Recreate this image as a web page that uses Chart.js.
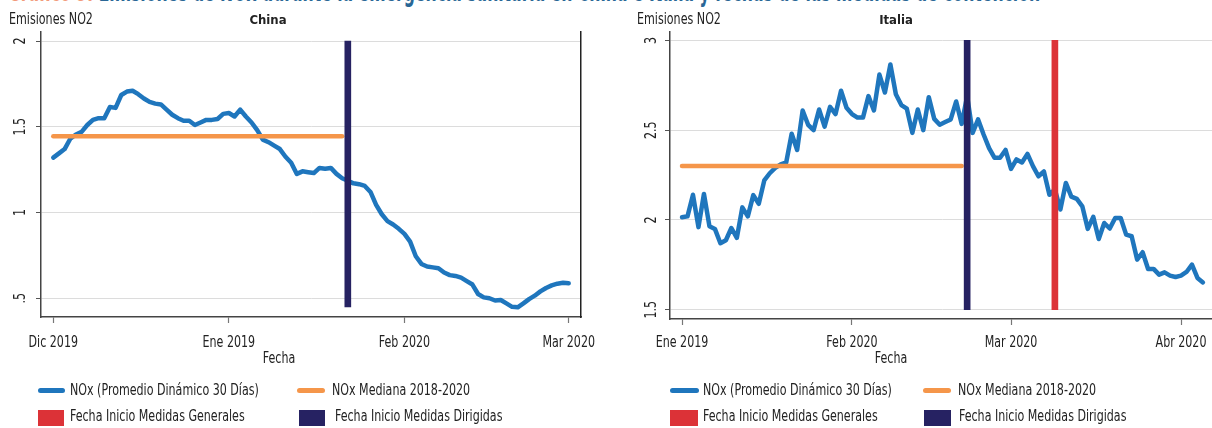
<!DOCTYPE html>
<html>
<head>
<meta charset="utf-8">
<script src="https://cdn.jsdelivr.net/npm/chart.js@4.4.0/dist/chart.umd.min.js"></script>
<style>
  html, body { margin: 0; padding: 0; background: #fff; }
  body { width: 1212px; height: 428px; overflow: hidden; position: relative;
         font-family: "Liberation Sans Narrow", "DejaVu Sans Condensed", "Liberation Sans", sans-serif;
         color: #222; font-size: 16px; }
  .abs { position: absolute; white-space: nowrap; line-height: 18px; transform-origin: 0 0; transform: scaleX(0.77); }
  .mid { transform: translateX(-50%) scaleX(0.77); transform-origin: 50% 0; }
  .small { font-size: 15px; }
  .bold { font-weight: bold; font-size: 13px; transform: translateX(-50%); }
  canvas { position: absolute; top: 0; }
  .swl { position: absolute; height: 5px; border-radius: 3px; }
  .swb { position: absolute; height: 16px; }
  #head { position: absolute; left: 8px; top: -24px; font-size: 30px; font-weight: bold; line-height: 30px;
          white-space: nowrap; color: #2a6796; transform-origin: 0 0; }
  #head span { color: #f29a7a; }
</style>
</head>
<body>
<div id="head"><span>Gráfico 5:</span> Emisiones de NOx durante la emergencia sanitaria en China e Italia y fechas de las medidas de contención</div>

<canvas id="china" width="606" height="428" style="left:0"></canvas>
<canvas id="italia" width="620" height="428" style="left:606px"></canvas>

<!-- China labels -->
<div class="abs small" style="left:9px;top:10px">Emisiones NO2</div>
<div class="abs bold" style="left:268px;top:11px">China</div>
<div class="abs mid" style="left:279px;top:349px">Fecha</div>

<div class="swl" style="left:38px;width:27px;top:388px;background:#1f76bd"></div>
<div class="abs" style="left:70px;top:381px">NOx (Promedio Dinámico 30 Días)</div>
<div class="swl" style="left:297px;width:28px;top:388px;background:#f5964a"></div>
<div class="abs" style="left:332px;top:381px">NOx Mediana 2018-2020</div>
<div class="swb" style="left:38px;width:26px;top:410px;background:#dc3237"></div>
<div class="abs" style="left:70px;top:407px">Fecha Inicio Medidas Generales</div>
<div class="swb" style="left:299px;width:26px;top:410px;background:#262262"></div>
<div class="abs" style="left:335px;top:407px">Fecha Inicio Medidas Dirigidas</div>

<!-- Italia labels -->
<div class="abs small" style="left:637px;top:10px">Emisiones NO2</div>
<div class="abs bold" style="left:896px;top:11px">Italia</div>
<div class="abs mid" style="left:891px;top:349px">Fecha</div>

<div class="swl" style="left:670px;width:29px;top:388px;background:#1f76bd"></div>
<div class="abs" style="left:703px;top:381px">NOx (Promedio Dinámico 30 Días)</div>
<div class="swl" style="left:923px;width:28px;top:388px;background:#f5964a"></div>
<div class="abs" style="left:958px;top:381px">NOx Mediana 2018-2020</div>
<div class="swb" style="left:670px;width:28px;top:410px;background:#dc3237"></div>
<div class="abs" style="left:703px;top:407px">Fecha Inicio Medidas Generales</div>
<div class="swb" style="left:924px;width:27px;top:410px;background:#262262"></div>
<div class="abs" style="left:959px;top:407px">Fecha Inicio Medidas Dirigidas</div>

<script>
// China: daily values from 1 Dec 2019 (day 0) to 1 Mar 2020 (day 91)
const chinaNOx = [
  1.32, 1.345, 1.37, 1.43, 1.455, 1.47, 1.51, 1.54, 1.55, 1.55,
  1.615, 1.61, 1.685, 1.705, 1.71, 1.69, 1.665, 1.645, 1.635, 1.63,
  1.60, 1.57, 1.55, 1.535, 1.535, 1.51, 1.525, 1.54, 1.54, 1.545,
  1.575, 1.58, 1.56, 1.60, 1.56, 1.525, 1.48, 1.425, 1.41, 1.39,
  1.37, 1.325, 1.29, 1.225, 1.24, 1.235, 1.23, 1.26, 1.255, 1.26,
  1.225, 1.20, 1.185, 1.17, 1.165, 1.155, 1.12, 1.045, 0.99, 0.95,
  0.93, 0.905, 0.875, 0.83, 0.745, 0.70, 0.685, 0.68, 0.675, 0.65,
  0.635, 0.63, 0.62, 0.60, 0.58, 0.525, 0.505, 0.50, 0.487, 0.49,
  0.47, 0.45, 0.447, 0.47, 0.495, 0.515, 0.54, 0.56, 0.575, 0.585,
  0.59, 0.587
];
const chinaMedian = 1.444;
const chinaMedianDays = [0, 51];
const chinaDirigidas = 52;          // 22 ene
const chinaBarRange = [0.45, 2];
const chinaTickDays = [0, 31, 62, 91];
const chinaTickLabels = ['Dic 2019', 'Ene 2019', 'Feb 2020', 'Mar 2020'];
const chinaYTicks = [0.5, 1, 1.5, 2];
const chinaYLabels = ['.5', '1', '1.5', '2'];

// Italia: daily values from 1 Jan 2020 (day 0) to 5 Apr 2020 (day 95)
const italyNOx = [
  2.015, 2.02, 2.14, 1.96, 2.145, 1.965, 1.95, 1.87, 1.887, 1.955,
  1.90, 2.07, 2.02, 2.138, 2.09, 2.22, 2.26, 2.29, 2.31, 2.32,
  2.48, 2.39, 2.61, 2.53, 2.50, 2.615, 2.52, 2.63, 2.59, 2.72,
  2.625, 2.59, 2.57, 2.57, 2.69, 2.61, 2.81, 2.71, 2.866, 2.70,
  2.64, 2.62, 2.485, 2.615, 2.50, 2.684, 2.563, 2.53, 2.545, 2.56,
  2.66, 2.535, 2.69, 2.485, 2.56, 2.476, 2.40, 2.346, 2.346, 2.39,
  2.284, 2.337, 2.32, 2.368, 2.30, 2.243, 2.27, 2.14, 2.17, 2.058,
  2.206, 2.13, 2.117, 2.076, 1.95, 2.017, 1.894, 1.983, 1.952, 2.011,
  2.011, 1.918, 1.909, 1.779, 1.82, 1.727, 1.727, 1.695, 1.708, 1.69,
  1.682, 1.69, 1.71, 1.751, 1.677, 1.652
];
const italyMedian = 2.30;
const italyMedianDays = [0, 51];
const italyDirigidas = 52;          // 22 feb
const italyGenerales = 68;          // 9 mar
const italyBarRange = [1.5, 3];
const italyTickDays = [0, 31, 60, 91];
const italyTickLabels = ['Ene 2019', 'Feb 2020', 'Mar 2020', 'Abr 2020'];
const italyYTicks = [1.5, 2, 2.5, 3];
const italyYLabels = ['1.5', '2', '2.5', '3'];

const BLUE = '#1f76bd';
const ORANGE = '#f5964a';
const NAVY = '#262262';
const RED = '#dc3237';
const AXIS = '#444';
const FONT = '"Liberation Sans Narrow", "DejaVu Sans Condensed", "Liberation Sans", sans-serif';

Chart.defaults.font.family = FONT;
Chart.defaults.font.size = 16;
Chart.defaults.color = '#222';
Chart.defaults.animation = false;

// squeeze the heading and the axis captions into the width they have in the original
function fitWidth(el, w) {
  el.style.transform = 'scaleX(' + (w / el.scrollWidth) + ')';
}
fitWidth(document.getElementById('head'), 1032);
document.querySelectorAll('.small').forEach(el => fitWidth(el, 84));

// tick labels drawn narrow (the original uses a condensed face)
const narrowTicks = {
  id: 'narrowTicks',
  afterDraw(chart, args, opts) {
    const ctx = chart.ctx;
    const xs = chart.scales.x, ys = chart.scales.y;
    ctx.save();
    ctx.font = '16px ' + FONT;
    ctx.fillStyle = '#222';
    ctx.textAlign = 'center';
    ctx.textBaseline = 'alphabetic';
    xs.ticks.forEach(t => {
      ctx.save();
      ctx.translate(xs.getPixelForValue(t.value), xs.top + opts.xGap);
      ctx.scale(0.77, 1);
      ctx.fillText(t.label, 0, 0);
      ctx.restore();
    });
    ys.ticks.forEach(t => {
      ctx.save();
      ctx.translate(ys.right - opts.yGap, ys.getPixelForValue(t.value));
      ctx.rotate(-Math.PI / 2);
      ctx.scale(0.77, 1);
      ctx.fillText(t.label, 0, 0);
      ctx.restore();
    });
    ctx.restore();
  }
};

function makePanel(id, s) {
  const lineData = s.values.map((v, i) => ({x: i, y: v}));
  const medianData = s.medianDays.map(d => ({x: d, y: s.median}));

  const datasets = [
    {type: 'line', data: lineData, borderColor: BLUE, borderWidth: 4.5, pointRadius: 0,
     borderJoinStyle: 'round', borderCapStyle: 'round', tension: 0, order: 3},
    {type: 'line', data: medianData, borderColor: ORANGE, borderWidth: 4.5, pointRadius: 0,
     borderCapStyle: 'round', order: 2},
  ];
  s.bars.forEach(b => {
    datasets.push({type: 'bar', data: [{x: b.day, y: s.barRange}], backgroundColor: b.color,
      barThickness: 6, grouped: false, order: 1});
  });

  return new Chart(document.getElementById(id), {
    type: 'line',
    data: {datasets: datasets},
    plugins: [narrowTicks],
    options: {
      responsive: false,
      layout: {padding: s.padding},
      plugins: {legend: {display: false}, tooltip: {enabled: false},
                narrowTicks: {yGap: s.yGap, xGap: s.xGap}},
      scales: {
        x: {
          type: 'linear', offset: false, min: s.xMin, max: s.xMax,
          afterBuildTicks: sc => { sc.ticks = s.tickDays.map(v => ({value: v})); },
          afterFit: sc => { sc.height = 60; },
          ticks: {
            display: false, autoSkip: false, maxRotation: 0,
            callback: (v) => s.tickLabels[s.tickDays.indexOf(v)]
          },
          grid: {offset: false, drawOnChartArea: false, drawTicks: true, tickLength: 6, tickColor: '#777', tickWidth: 1.2},
          border: {display: true, color: AXIS, width: 1.5}
        },
        y: {
          type: 'linear', min: s.yMin, max: s.yMax,
          afterBuildTicks: sc => { sc.ticks = s.yTicks.map(v => ({value: v})); },
          afterFit: sc => { sc.width = s.yWidth; },
          ticks: {
            display: false,
            callback: (v) => s.yLabels[s.yTicks.indexOf(v)]
          },
          grid: {color: '#dcdcdc', lineWidth: 1, drawTicks: true, tickLength: 5, tickColor: '#555', tickWidth: 1},
          border: {display: true, color: AXIS, width: 1.5}
        },
        yr: {
          position: 'right', display: true,
          afterFit: sc => { sc.width = 0; },
          ticks: {display: false},
          grid: {display: false, drawTicks: false},
          border: {display: true, color: '#222', width: 1.5}
        }
      }
    }
  });
}

makePanel('china', {
  values: chinaNOx, median: chinaMedian, medianDays: chinaMedianDays,
  bars: [{day: chinaDirigidas, color: NAVY}], barRange: chinaBarRange,
  tickDays: chinaTickDays, tickLabels: chinaTickLabels,
  yTicks: chinaYTicks, yLabels: chinaYLabels, yGap: 16.5, xGap: 30,
  xMin: -2.17, xMax: 93.17, yMin: 0.3907, yMax: 2.0525,
  yWidth: 41, padding: {left: 0, right: 25, top: 32, bottom: 51}
});

makePanel('italia', {
  values: italyNOx, median: italyMedian, medianDays: italyMedianDays,
  bars: [{day: italyDirigidas, color: NAVY}, {day: italyGenerales, color: RED}], barRange: italyBarRange,
  tickDays: italyTickDays, tickLabels: italyTickLabels,
  yTicks: italyYTicks, yLabels: italyYLabels, yGap: 14, xGap: 27.5,
  xMin: -2.19, xMax: 97.2, yMin: 1.448, yMax: 3.047,
  yWidth: 64, padding: {left: 0, right: 11, top: 32, bottom: 49}
});
</script>
</body>
</html>
